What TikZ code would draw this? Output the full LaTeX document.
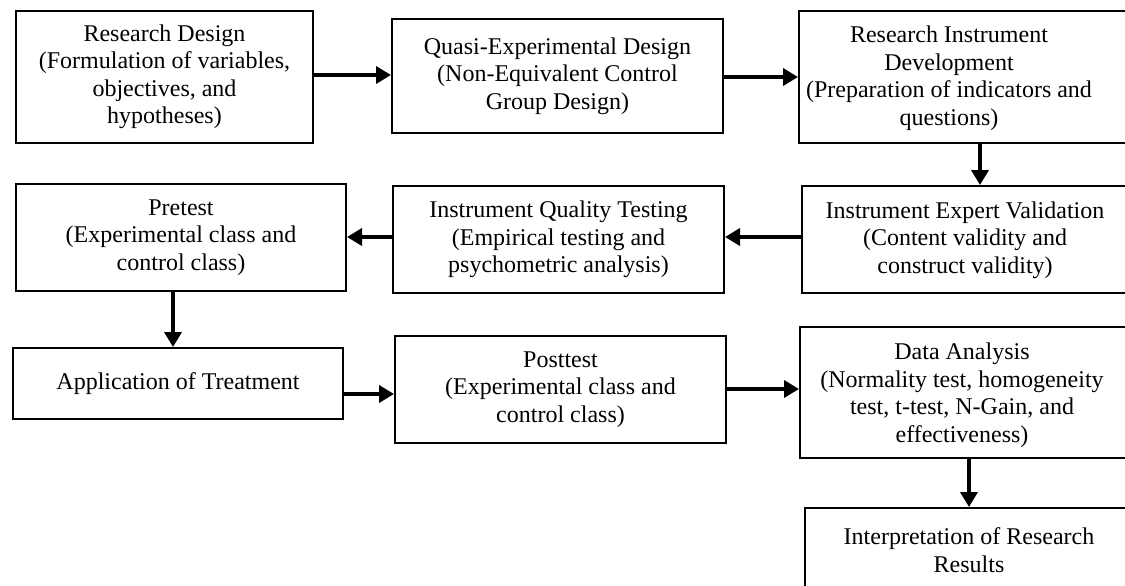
\documentclass[tikz,border=0pt]{standalone}
\usepackage{fontspec}
\setmainfont{Liberation Serif}
\usetikzlibrary{arrows.meta}
\begin{document}
\begin{tikzpicture}[x=1pt,y=-1pt,
  box/.style={draw=black, line width=2pt, rectangle, inner sep=0pt, anchor=north west,
    align=center, font=\fontsize{24}{27.5}\selectfont},
  txt/.style={align=center, font=\fontsize{24}{27.5}\selectfont, inner sep=0pt},
  arr/.style={line width=3.6pt, -{Triangle[length=15pt,width=17pt]}}]
\useasboundingbox (0,0) rectangle (1125,586);
\clip (0,0) rectangle (1125,586);
% row 1
\node[box, minimum width=297pt, minimum height=132pt] (b1) at (15,10)
  {Research Design\\(Formulation of variables,\\objectives, and\\hypotheses)};
\node[box, minimum width=331pt, minimum height=114pt] (b2) at (391,18)
  {Quasi-Experimental Design\\(Non-Equivalent Control\\Group Design)};
\node[box, minimum width=340pt, minimum height=132pt] (b3) at (798,10) {};
\node[txt] (t3) at (949,78) {Research Instrument\\Development\\(Preparation of indicators and\\questions)};
% row 2
\node[box, minimum width=330pt, minimum height=107pt] (b4) at (15,183)
  {Pretest\\(Experimental class and\\control class)};
\node[box, minimum width=331pt, minimum height=107pt] (b5) at (392,185)
  {Instrument Quality Testing\\(Empirical testing and\\psychometric analysis)};
\node[box, minimum width=340pt, minimum height=107pt] (b6) at (801,185) {};
\node[txt] (t6) at (965,240) {Instrument Expert Validation\\(Content validity and\\construct validity)};
% row 3
\node[box, minimum width=330pt, minimum height=71pt] (b7) at (12,347)
  {Application of Treatment};
\node[box, minimum width=331pt, minimum height=107pt] (b8) at (394,335)
  {Posttest\\(Experimental class and\\control class)};
\node[box, minimum width=340pt, minimum height=131pt] (b9) at (799,326) {};
\node[txt] (t9) at (962,395) {Data Analysis\\(Normality test, homogeneity\\test, t-test, N-Gain, and\\effectiveness)};
% row 4
\node[box, minimum width=340pt, minimum height=110pt] (b10) at (804,507) {};
\node[txt] (t10) at (969,550) {Interpretation of Research\\Results};
% connectors
\draw[arr] (b1.east |- 0,75) -- (b2.west |- 0,75);
\draw[arr] (b2.east |- 0,77) -- (b3.west |- 0,77);
\draw[arr] (b3.south -| 980,0) -- (b6.north -| 980,0);
\draw[arr] (b6.west |- 0,237) -- (b5.east |- 0,237);
\draw[arr] (b5.west |- 0,237) -- (b4.east |- 0,237);
\draw[arr] (b4.south -| 173,0) -- (b7.north -| 173,0);
\draw[arr] (b7.east |- 0,394) -- (b8.west |- 0,394);
\draw[arr] (b8.east |- 0,389) -- (b9.west |- 0,389);
\draw[arr] (b9.south -| 969,0) -- (b10.north -| 969,0);
\end{tikzpicture}
\end{document}
